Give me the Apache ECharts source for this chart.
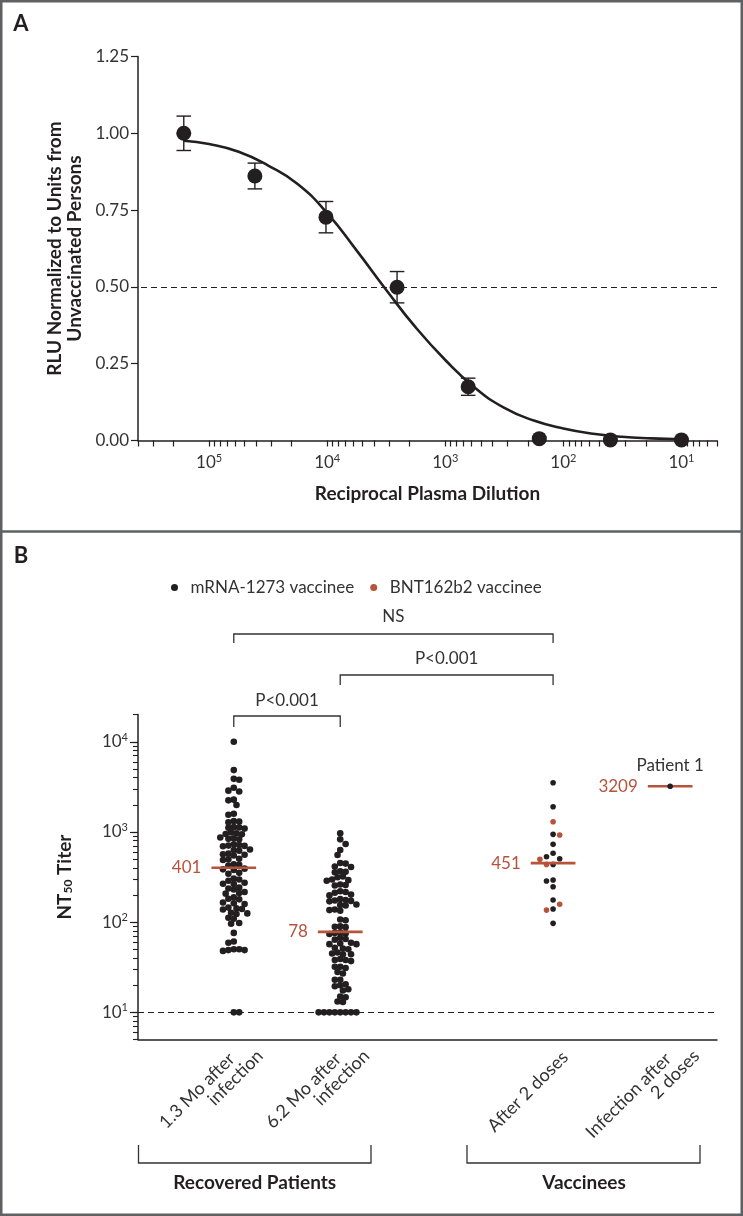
<!DOCTYPE html>
<html><head><meta charset="utf-8">
<script src="https://cdn.jsdelivr.net/npm/echarts@6/dist/echarts.min.js"></script>
<style>html,body{margin:0;padding:0;background:#fff}#c{width:743px;height:1216px}</style>
</head><body><div id="c"></div>
<script>
// ---------- Panel A data ----------
const dilutions = [163840, 40960, 10240, 2560, 640, 160, 40, 10];
const rluMean   = [1.00, 0.861, 0.727, 0.499, 0.175, 0.006, 0.002, 0.002];
const rluErr    = [0.056, 0.042, 0.051, 0.051, 0.028, 0.004, 0.003, 0.003];
// fitted curve
const fitDilution = [163840, 100000, 56200, 31600, 17800, 10000, 5620, 3160, 1780, 1000, 562, 316, 178, 100, 56, 32, 18, 10];
const fitRlu      = [0.976, 0.965, 0.940, 0.895, 0.835, 0.740, 0.618, 0.490, 0.368, 0.262, 0.172, 0.106, 0.065, 0.039, 0.022, 0.012, 0.007, 0.004];
const xLabelValsA = [100000, 10000, 1000, 100, 10];
const yLabelStepA = 0.25;

// ---------- Panel B data ----------
const groupLines = [['1.3 Mo after', 'infection'], ['6.2 Mo after', 'infection'], ['After 2 doses'], ['Infection after', '2 doses']];
const groupPos = [1, 2, 4, 5.1];
const recovered13 = [10000, 4850, 3880, 3790, 3090, 2870, 2810, 2280, 2240, 1990, 1590, 1550,
  1320, 1300, 1280, 1130, 1120, 1110, 1090, 985, 966, 950, 940, 868, 850, 838, 830,
  730, 718, 706, 700, 695, 640, 630, 620, 575, 566, 558, 548, 505, 497, 488, 438, 433, 424,
  392, 385, 379, 352, 344, 304, 297, 288, 273, 267, 264, 242, 236, 230, 216, 210, 207,
  188, 182, 179, 165, 162, 159, 145, 142, 140, 138, 127, 125, 123,
  112, 109, 98, 96, 76, 61, 59, 50, 50, 49, 49, 48, 10, 10];
const recovered62 = [966, 828, 735, 631, 555, 452, 446, 414, 408, 366, 362, 358, 321, 315,
  297, 292, 288, 261, 258, 255, 220, 216, 212, 202, 198, 180, 176, 174, 172, 170,
  157, 155, 153, 138, 136, 134, 107, 105, 90, 89, 88, 77, 76, 75, 74, 67, 65, 64,
  59, 58, 57, 57, 52, 51, 50, 46, 45, 44, 44, 39, 38, 38, 37,
  32, 32, 31, 28, 27, 23, 23, 20.5, 20, 19.5, 18, 17.5, 15, 14.7, 13.2, 13,
  10, 10, 10, 10, 10, 10, 10, 10];
const vaccMRNA = [3514, 1905, 940, 729, 580, 531, 505, 437, 293, 286, 247, 176, 140, 97];
const vaccBNT  = [1297, 925, 497, 437, 158, 136];
const patient1 = [3209];
const geoMeans = [401, 78, 451, 3209];
const yLabelValsB = [10, 100, 1000, 10000];
const detectionLimit = 10;

// ---------- styles ----------
const INK = '#231f20', TXT = '#333333', RED = '#b7523b';
const FONT = 'Lato, "Open Sans", sans-serif';
const supRich = { s: { fontSize: 11, fontFamily: FONT, color: TXT, verticalAlign: 'top', lineHeight: 12 }, b: { fontSize: 17, fontFamily: FONT, color: TXT, lineHeight: 20 } };
const supFmt = v => '{b|10}{s|' + Math.round(Math.log10(v)) + '}';

function logTicks(lo, hi) {
  const out = [];
  for (let e = -1; e <= 7; e++) for (let k = 1; k <= 9; k++) {
    const v = k * Math.pow(10, e);
    if (v >= lo * 0.999 && v <= hi * 1.001) out.push(v);
  }
  return out;
}
const YMAXB = 20000, YMINB = 5;

const chart = echarts.init(document.getElementById('c'), null, { renderer: 'canvas' });

const option = {
  animation: false,
  backgroundColor: '#fff',
  textStyle: { fontFamily: FONT },
  grid: [
    { left: 138, top: 56.5, width: 579, height: 384, outerBoundsMode: 'none' },
    { left: 138, top: 714.6, width: 579, height: 324.9, outerBoundsMode: 'none' }
  ],
  legend: {
    data: ['mRNA-1273 vaccinee', 'BNT162b2 vaccinee'],
    left: 166, top: 574, itemWidth: 22, itemHeight: 7, itemGap: 16, icon: 'circle',
    textStyle: { fontSize: 17, color: TXT, fontFamily: FONT },
    selectedMode: false
  },
  xAxis: [
    {
      type: 'log', logBase: 10, gridIndex: 0, min: 5, max: 400000, inverse: true,
      name: 'Reciprocal Plasma Dilution', nameLocation: 'middle', nameGap: 44,
      nameTextStyle: { fontFamily: FONT, fontWeight: 'bold', fontSize: 19, color: INK },
      axisLine: { show: true, lineStyle: { color: INK, width: 1.5 } },
      axisTick: { show: true, customValues: logTicks(5, 400000), length: 6, lineStyle: { color: INK, width: 1.2 } },
      axisLabel: { customValues: xLabelValsA, formatter: supFmt, margin: 12, rich: supRich },
      splitLine: { show: false }, minorTick: { show: false }
    },
    {
      type: 'value', gridIndex: 1, min: 0.1, max: 5.54,
      axisLine: { show: true, lineStyle: { color: INK, width: 1.5 } },
      axisTick: { show: false },
      axisLabel: { show: false },
      splitLine: { show: false }
    }
  ],
  yAxis: [
    {
      type: 'value', gridIndex: 0, min: 0, max: 1.25, interval: yLabelStepA,
      name: 'RLU Normalized to Units from\nUnvaccinated Persons', nameLocation: 'middle', nameGap: 53, nameRotate: 90,
      nameTextStyle: { fontFamily: FONT, fontWeight: 'bold', fontSize: 19, color: INK, lineHeight: 20 },
      axisLine: { show: true, lineStyle: { color: INK, width: 1.5 } },
      axisTick: { show: true, length: 7, lineStyle: { color: INK, width: 1.2 } },
      axisLabel: { formatter: v => v.toFixed(2), margin: 9, fontSize: 17, color: TXT, fontFamily: FONT },
      splitLine: { show: false }
    },
    {
      type: 'log', logBase: 10, gridIndex: 1, min: YMINB, max: YMAXB,
      name: 'NT{sub|50} Titer', nameLocation: 'middle', nameGap: 64, nameRotate: 90,
      nameTextStyle: { fontFamily: FONT, fontWeight: 'bold', fontSize: 19, color: INK,
        rich: { sub: { fontFamily: FONT, fontWeight: 'bold', fontSize: 12, color: INK, verticalAlign: 'bottom', lineHeight: 16 } } },
      axisLine: { show: true, lineStyle: { color: INK, width: 1.5 } },
      axisTick: { show: true, customValues: yLabelValsB, length: 8, lineStyle: { color: INK, width: 1.2 } },
      axisLabel: { customValues: yLabelValsB, formatter: supFmt, margin: 10, rich: supRich },
      splitLine: { show: false }, minorTick: { show: false }
    },
    {
      type: 'log', logBase: 10, gridIndex: 1, min: YMINB, max: YMAXB, position: 'left', offset: 0,
      axisLine: { show: false },
      axisTick: { show: true, customValues: logTicks(YMINB, YMAXB), length: 5, lineStyle: { color: INK, width: 1.1 } },
      axisLabel: { show: false },
      splitLine: { show: false }, minorTick: { show: false }
    }
  ],
  series: [
    // ---- Panel A ----
    {
      type: 'custom', xAxisIndex: 0, yAxisIndex: 0, z: 2,
      data: dilutions.map((d, i) => [d, rluMean[i] - rluErr[i], rluMean[i] + rluErr[i]]),
      encode: { x: 0, y: [1, 2] },
      renderItem: (params, api) => {
        const lo = api.coord([api.value(0), api.value(1)]);
        const hi = api.coord([api.value(0), api.value(2)]);
        const w = 7.3;
        const st = { stroke: INK, lineWidth: 1.4, fill: null };
        return { type: 'group', children: [
          { type: 'line', shape: { x1: lo[0], y1: lo[1], x2: hi[0], y2: hi[1] }, style: st },
          { type: 'line', shape: { x1: lo[0] - w, y1: lo[1], x2: lo[0] + w, y2: lo[1] }, style: st },
          { type: 'line', shape: { x1: hi[0] - w, y1: hi[1], x2: hi[0] + w, y2: hi[1] }, style: st }
        ] };
      }
    },
    {
      type: 'line', xAxisIndex: 0, yAxisIndex: 0, z: 3, smooth: 0.5,
      showSymbol: false, symbol: 'none',
      data: fitDilution.map((d, i) => [d, fitRlu[i]]),
      lineStyle: { color: INK, width: 2.6 },
      markLine: { silent: true, symbol: ['none', 'none'], label: { show: false },
        lineStyle: { color: INK, type: [6, 4], width: 1.2 }, data: [{ yAxis: 0.5 }] }
    },
    {
      type: 'scatter', xAxisIndex: 0, yAxisIndex: 0, z: 4, symbolSize: 15,
      data: dilutions.map((d, i) => [d, rluMean[i]]),
      itemStyle: { color: INK, opacity: 1 }
    },
    // ---- Panel B ----
    {
      id: 'g1', name: 'mRNA-1273 vaccinee', type: 'scatter', xAxisIndex: 1, yAxisIndex: 1, z: 3, symbolSize: 6.6,
      data: recovered13.map(v => [groupPos[0], v]), itemStyle: { color: INK, opacity: 1 },
      markLine: { silent: true, symbol: ['none', 'none'], label: { show: false },
        lineStyle: { color: INK, type: [6, 4], width: 1.2 }, data: [{ yAxis: detectionLimit }] }
    },
    {
      id: 'g2', name: 'mRNA-1273 vaccinee', type: 'scatter', xAxisIndex: 1, yAxisIndex: 1, z: 3, symbolSize: 6.6,
      data: recovered62.map(v => [groupPos[1], v]), itemStyle: { color: INK, opacity: 1 }
    },
    {
      id: 'g3m', name: 'mRNA-1273 vaccinee', type: 'scatter', xAxisIndex: 1, yAxisIndex: 1, z: 3, symbolSize: 5.6,
      data: vaccMRNA.map(v => [groupPos[2], v]), itemStyle: { color: INK, opacity: 1 }
    },
    {
      id: 'g3b', name: 'BNT162b2 vaccinee', type: 'scatter', xAxisIndex: 1, yAxisIndex: 1, z: 3, symbolSize: 5.6,
      data: vaccBNT.map(v => [groupPos[2], v]), itemStyle: { color: RED, opacity: 1 }
    },
    {
      type: 'custom', xAxisIndex: 1, yAxisIndex: 1, z: 4,
      data: geoMeans.map((g, i) => [groupPos[i], g]),
      renderItem: (params, api) => {
        const x = api.value(0), v = api.value(1), hw = 0.21;
        const p1 = api.coord([x - hw, v]), p2 = api.coord([x + hw, v]);
        return { type: 'group', children: [
          { type: 'line', shape: { x1: p1[0], y1: p1[1], x2: p2[0], y2: p2[1] }, style: { stroke: RED, lineWidth: 2.6 } },
          { type: 'text', style: { text: String(v), x: p1[0] - 10, y: p1[1], align: 'right', verticalAlign: 'middle',
            fill: RED, fontSize: 17, fontFamily: FONT } }
        ] };
      }
    },
    {
      id: 'g4', name: 'mRNA-1273 vaccinee', type: 'scatter', xAxisIndex: 1, yAxisIndex: 1, z: 5, symbolSize: 5.6,
      data: patient1.map(v => [groupPos[3], v]), itemStyle: { color: INK, opacity: 1 },
      label: { show: true, position: 'top', distance: 9, formatter: 'Patient 1', fontSize: 17, color: TXT, fontFamily: FONT }
    }
  ]
};
chart.setOption(option);

// ---- beeswarm layout (pixel-space collision avoidance) ----
const toPx = (x, y) => chart.convertToPixel({ xAxisIndex: 1, yAxisIndex: 1 }, [x, y]);
const unit = toPx(2, 100)[0] - toPx(1, 100)[0];
function swarmOffsets(pys, D) {
  const idx = pys.map((_, i) => i).sort((a, b) => pys[a] - pys[b]);
  const placed = [], offs = new Array(pys.length).fill(0), step = D / 2;
  let flip = 1;
  idx.forEach(i => {
    const y = pys[i];
    const near = placed.filter(p => Math.abs(p[1] - y) < D);
    for (let k = 0; k < 400; k++) {
      const cands = k === 0 ? [0] : [flip * k * step, -flip * k * step];
      let ok = null;
      for (const c of cands) {
        if (near.every(p => (p[0] - c) * (p[0] - c) + (p[1] - y) * (p[1] - y) >= D * D - 1e-6)) { ok = c; break; }
      }
      if (ok !== null) { offs[i] = ok; placed.push([ok, y]); if (ok !== 0) flip = -flip; break; }
    }
  });
  return offs;
}
function spread(values, pos, D) {
  const offs = swarmOffsets(values.map(v => toPx(pos, v)[1]), D);
  return values.map((v, i) => [pos + offs[i] / unit, v]);
}
const g1 = spread(recovered13, groupPos[0], 5.4);
const g2 = spread(recovered62, groupPos[1], 5.4);
const g3 = spread(vaccMRNA.concat(vaccBNT), groupPos[2], 6.6);

// ---- annotations ----
const cx = i => toPx(groupPos[i], 100)[0];
const axisY = toPx(1, YMINB)[1];
const brk = (x1, x2, y, tick, st) => ({ type: 'polyline', shape: { points: [[x1, y + tick], [x1, y], [x2, y], [x2, y + tick]] },
  style: Object.assign({ stroke: '#333', lineWidth: 1.3, fill: null }, st || {}) });
const txt = (s, x, y, o) => ({ type: 'text', x: x, y: y, style: Object.assign({ text: s, align: 'center', verticalAlign: 'middle',
  fontSize: 17, fontFamily: FONT, fill: TXT }, o || {}) });
const bold = { fontWeight: 'bold', fontSize: 19, fill: INK };

// rotated category labels (each line anchored at its right end)
const catLabels = [];
groupLines.forEach((lines, i) => {
  const x0 = cx(i);
  const offs = lines.length === 1 ? [[12, 15]] : [[-2, 16.5], [26.3, 13.6]];
  lines.forEach((ln, j) => {
    catLabels.push({ type: 'text', x: x0 + offs[j][0], y: axisY + offs[j][1], rotation: Math.PI / 4,
      style: { text: ln, align: 'right', verticalAlign: 'middle', fontSize: 18, fontFamily: FONT, fill: TXT } });
  });
});

chart.setOption({
  series: [
    { id: 'g1', data: g1 },
    { id: 'g2', data: g2 },
    { id: 'g3m', data: g3.slice(0, vaccMRNA.length) },
    { id: 'g3b', data: g3.slice(vaccMRNA.length) }
  ],
  graphic: [
    { type: 'rect', shape: { x: 1.25, y: 1.25, width: 740.5, height: 1213.5 }, style: { fill: null, stroke: '#5f6062', lineWidth: 2.5 } },
    { type: 'line', shape: { x1: 0, y1: 531.5, x2: 743, y2: 531.5 }, style: { stroke: '#5f6062', lineWidth: 2.5 } },
    txt('A', 21, 24, { fontWeight: 'bold', fontSize: 22, fill: INK }),
    txt('B', 21, 556, { fontWeight: 'bold', fontSize: 22, fill: INK }),
    brk(cx(0), cx(2), 634, 9), txt('NS', (cx(0) + cx(2)) / 2, 617),
    brk(cx(1), cx(2), 675, 10), txt('P<0.001', (cx(1) + cx(2)) / 2, 659),
    brk(cx(0), cx(1), 716, 11), txt('P<0.001', (cx(0) + cx(1)) / 2, 701),
    brk(138.5, 371, 1163, -18), txt('Recovered Patients', 254.7, 1183, bold),
    brk(467, 700, 1163, -18), txt('Vaccinees', 584, 1183, bold)
  ].concat(catLabels)
});
</script></body></html>
